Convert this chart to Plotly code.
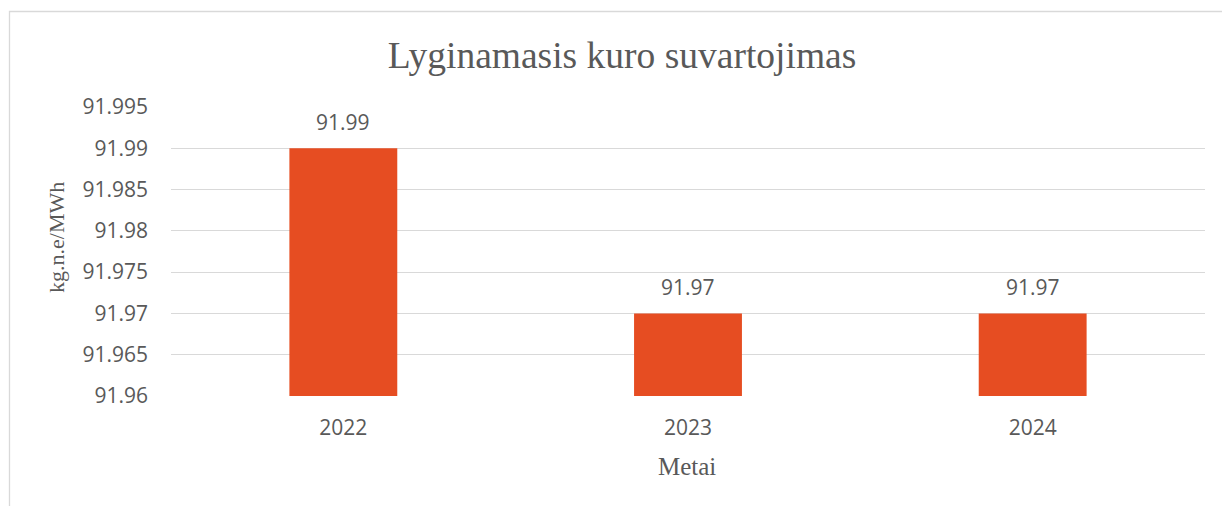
import plotly.graph_objects as go

# ---- data ----
years = ["2022", "2023", "2024"]
values = [91.99, 91.97, 91.97]
value_labels = ["91.99", "91.97", "91.97"]
y_tick_values = [91.96, 91.965, 91.97, 91.975, 91.98, 91.985, 91.99, 91.995]
y_tick_labels = ["91.96", "91.965", "91.97", "91.975", "91.98", "91.985", "91.99", "91.995"]

title_text = "Lyginamasis kuro suvartojimas"
y_title = "kg.n.e/MWh"
x_title = "Metai"

BAR = "#E64D22"
GRID = "#D9D9D9"
TXT = "#595959"
SANS = "Open Sans"
SERIF = "Liberation Serif"

W, H = 1222, 506
L, R, T, B = 171, 17, 107, 110
pw, ph = W - L - R, H - T - B

fig = go.Figure()
fig.add_trace(go.Bar(
    x=years, y=values, marker=dict(color=BAR, line=dict(width=0)),
    hoverinfo="skip", showlegend=False,
))

for i, (v, lab) in enumerate(zip(values, value_labels)):
    fig.add_annotation(x=i, y=v, text=lab, showarrow=False, xanchor="center", yanchor="middle",
                       yshift=26, font=dict(family=SANS, size=21, color=TXT))

# axis titles
fig.add_annotation(xref="paper", yref="paper", x=(57 - L) / pw, y=(396 - 238) / ph,
                   xanchor="center", yanchor="middle",
                   text=y_title, textangle=-90, showarrow=False,
                   font=dict(family=SERIF, size=22, color=TXT))
fig.add_annotation(xref="paper", yref="paper", x=(687 - L) / pw, y=(396 - 466) / ph,
                   xanchor="center", yanchor="middle",
                   text=x_title, showarrow=False,
                   font=dict(family=SERIF, size=25, color=TXT))

# chart border (partially visible)
fig.add_shape(type="rect", xref="paper", yref="paper",
              x0=(9.5 - L) / pw, x1=(1240 - L) / pw,
              y0=(396 - 530) / ph, y1=(396 - 11.5) / ph,
              line=dict(color=GRID, width=1.3), fillcolor="rgba(0,0,0,0)", layer="below")

fig.update_layout(
    width=W, height=H,
    margin=dict(l=L, r=R, t=T, b=B, pad=0),
    paper_bgcolor="white", plot_bgcolor="white",
    bargap=0.687,
    title=dict(text=title_text, x=622 / W, xanchor="center",
               xref="container", y=1 - 55 / H, yanchor="middle", yref="container",
               font=dict(family=SERIF, size=37.5, color=TXT)),
    xaxis=dict(type="category", range=[-0.5, len(years) - 0.5],
               showgrid=False, showline=False, zeroline=False,
               tickfont=dict(family=SANS, size=21, color=TXT),
               ticks="", ticklabelstandoff=17, fixedrange=True),
    yaxis=dict(range=[91.96, 91.995], tickvals=y_tick_values, ticktext=y_tick_labels,
               showgrid=True, gridcolor=GRID, gridwidth=1.3, zeroline=False, showline=False,
               tickfont=dict(family=SANS, size=21, color=TXT),
               ticks="", ticklabelstandoff=22, fixedrange=True),
)

fig.write_html("out.html", config={"displayModeBar": False},
               post_script="document.body.style.margin='0';document.body.style.overflow='hidden';")
